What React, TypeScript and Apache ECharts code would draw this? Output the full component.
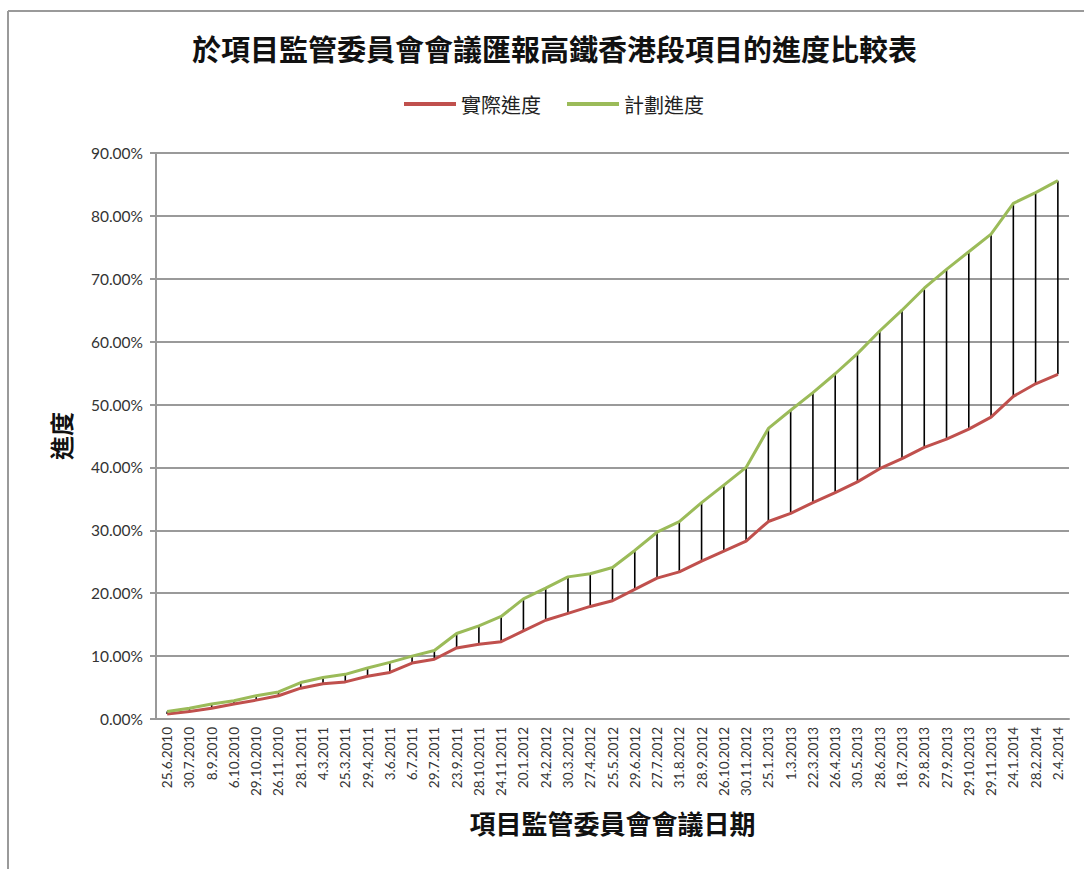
import React, { useEffect, useRef } from "react";
import * as echarts from "echarts";

const categories = [
  "25.6.2010", "30.7.2010", "8.9.2010", "6.10.2010", "29.10.2010", "26.11.2010",
  "28.1.2011", "4.3.2011", "25.3.2011", "29.4.2011", "3.6.2011", "6.7.2011",
  "29.7.2011", "23.9.2011", "28.10.2011", "24.11.2011", "20.1.2012", "24.2.2012",
  "30.3.2012", "27.4.2012", "25.5.2012", "29.6.2012", "27.7.2012", "31.8.2012",
  "28.9.2012", "26.10.2012", "30.11.2012", "25.1.2013", "1.3.2013", "22.3.2013",
  "26.4.2013", "30.5.2013", "28.6.2013", "18.7.2013", "29.8.2013", "27.9.2013",
  "29.10.2013", "29.11.2013", "24.1.2014", "28.2.2014", "2.4.2014",
];

// 實際進度 (percent)
const actual = [
  0.8, 1.2, 1.7, 2.4, 3.0, 3.7, 4.9, 5.6, 5.9, 6.8, 7.4, 8.9, 9.5, 11.3,
  11.9, 12.3, 14.0, 15.7, 16.8, 17.9, 18.8, 20.6, 22.4, 23.4, 25.1, 26.7,
  28.3, 31.4, 32.7, 34.4, 36.0, 37.7, 39.8, 41.4, 43.2, 44.5, 46.1, 48.0,
  51.3, 53.3, 54.8,
];

// 計劃進度 (percent)
const planned = [
  1.2, 1.7, 2.4, 2.9, 3.7, 4.3, 5.8, 6.6, 7.1, 8.1, 9.0, 10.0, 10.9, 13.6,
  14.8, 16.3, 19.1, 20.8, 22.6, 23.1, 24.1, 26.8, 29.7, 31.4, 34.4, 37.2,
  40.0, 46.2, 49.1, 51.9, 54.9, 58.1, 61.7, 65.0, 68.5, 71.5, 74.3, 77.1,
  82.0, 83.7, 85.6,
];

const yTicks = { min: 0, max: 90, interval: 10 };

const FONT = "Lato, 'Noto Sans CJK TC', sans-serif";
const CJK = "'Noto Sans CJK TC', sans-serif";

export default function App() {
  const ref = useRef<HTMLDivElement>(null);

  useEffect(() => {
    if (!ref.current) return;
    const chart = echarts.init(ref.current, null, { renderer: "svg" });
    const dropData = categories.map((_, i) => [i, actual[i], planned[i]]);
    chart.setOption({
      animation: false,
      backgroundColor: "#ffffff",
      title: {
        text: "於項目監管委員會會議匯報高鐵香港段項目的進度比較表",
        left: 187,
        top: 28,
        textStyle: { fontFamily: CJK, fontSize: 29, fontWeight: "bold", color: "#111" },
      },
      legend: {
        top: 89,
        left: 399,
        itemWidth: 52,
        itemHeight: 4,
        itemGap: 26,
        icon: "rect",
        data: ["實際進度", "計劃進度"],
        textStyle: { fontFamily: CJK, fontSize: 20, color: "#222" },
      },
      graphic: [
        { type: "line", shape: { x1: 8, y1: 11, x2: 1084, y2: 11 }, style: { stroke: "#9a9a9a", lineWidth: 2 } },
        { type: "line", shape: { x1: 8, y1: 11, x2: 8, y2: 869 }, style: { stroke: "#9a9a9a", lineWidth: 2 } },
      ],
      grid: { left: 156, right: 15, top: 153, bottom: 150 },
      xAxis: {
        type: "category",
        data: categories,
        boundaryGap: true,
        name: "項目監管委員會會議日期",
        nameLocation: "middle",
        nameGap: 90,
        nameTextStyle: { fontFamily: CJK, fontSize: 26, fontWeight: "bold", color: "#111" },
        axisLine: { lineStyle: { color: "#999", width: 2 } },
        axisTick: { show: false },
        axisLabel: {
          rotate: 90,
          interval: 0,
          margin: 8,
          fontFamily: FONT,
          fontSize: 13.5,
          color: "#333",
        },
      },
      yAxis: {
        type: "value",
        min: yTicks.min,
        max: yTicks.max,
        interval: yTicks.interval,
        name: "進度",
        nameLocation: "middle",
        nameRotate: 90,
        nameGap: 84,
        nameTextStyle: { fontFamily: CJK, fontSize: 24, fontWeight: "bold", color: "#111" },
        axisLine: { show: true, lineStyle: { color: "#999", width: 2 } },
        axisTick: { show: true, length: 6, lineStyle: { color: "#999", width: 2 } },
        splitLine: { lineStyle: { color: "#9a9a9a", width: 2 } },
        axisLabel: {
          formatter: (v: number) => v.toFixed(2) + "%",
          fontFamily: FONT,
          fontSize: 15.5,
          color: "#333",
          margin: 13,
        },
      },
      series: [
        {
          type: "custom",
          name: "drop",
          data: dropData,
          encode: { x: 0, y: [1, 2] },
          z: 1,
          renderItem: (params: any, api: any) => {
            const x = api.value(0);
            const a = api.coord([x, api.value(1)]);
            const b = api.coord([x, api.value(2)]);
            return {
              type: "line",
              shape: { x1: a[0], y1: a[1], x2: b[0], y2: b[1] },
              style: { stroke: "#000", lineWidth: 1.6 },
            };
          },
        },
        {
          type: "line",
          name: "實際進度",
          data: actual,
          showSymbol: false,
          z: 3,
          lineStyle: { color: "#c0504d", width: 3 },
          itemStyle: { color: "#c0504d" },
        },
        {
          type: "line",
          name: "計劃進度",
          data: planned,
          showSymbol: false,
          z: 3,
          lineStyle: { color: "#9bbb59", width: 3 },
          itemStyle: { color: "#9bbb59" },
        },
      ],
    });
    return () => chart.dispose();
  }, []);

  return (
    <div
      ref={ref}
      style={{ position: "fixed", left: 0, top: 0, width: 1084, height: 869 }}
    />
  );
}
